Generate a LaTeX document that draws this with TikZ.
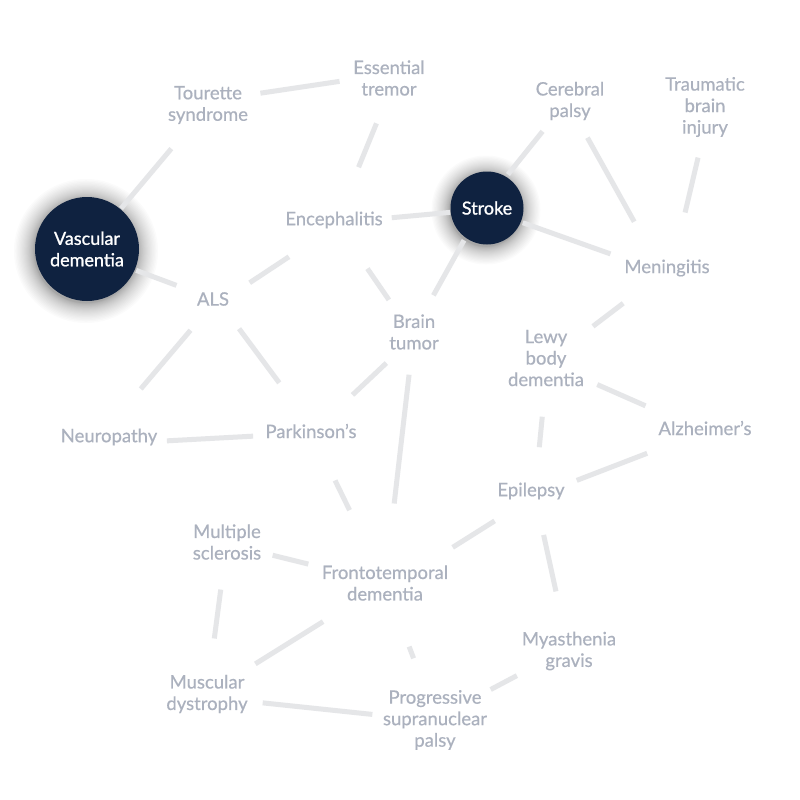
\documentclass[tikz,border=0pt]{standalone}
\usepackage{fontspec}
\setmainfont{Lato}[FakeBold=0.5]
\newfontfamily\hubfont{Lato}[FakeBold=1.0]
\usetikzlibrary{backgrounds}
\definecolor{navy}{HTML}{0F2240}
\definecolor{txtgray}{HTML}{ABB1BE}
\definecolor{linkgray}{HTML}{E5E6E8}
\tikzset{
  lbl/.style={text=txtgray,align=center,inner sep=0pt,font=\fontsize{18.5}{21.5}\selectfont},
  hub/.style={circle,fill=navy,text=white,align=center,inner sep=0pt,font=\hubfont\fontsize{18}{21.5}\selectfont},
  link/.style={draw=linkgray,line width=5pt,line cap=butt},
}
\newcommand\lnk[6]{\draw[link,shorten <=#3pt,shorten >=#4pt] ([shift={#5}]#1.center) -- ([shift={#6}]#2.center);}
\begin{document}
\begin{tikzpicture}[x=1pt,y=-1pt]
\useasboundingbox (0,0) rectangle (800,800);
% hubs
\node[hub,minimum size=104pt] (V) at (87,249) {Vascular\\dementia};
\node[hub,minimum size=73pt] (S) at (487,208) {Stroke};
\begin{scope}[on background layer]
\fill[white] (0,0) rectangle (800,800);
\foreach \i [evaluate=\i as \r using 52+20*(\i/24)^1.8] in {1,...,24}
  {\fill[black,opacity=0.016] ([shift={(-1,2)}]V.center) circle[radius=\r pt];}
\foreach \i [evaluate=\i as \r using 36.5+18*(\i/24)^1.8] in {1,...,24}
  {\fill[black,opacity=0.016] ([shift={(-1,2)}]S.center) circle[radius=\r pt];}
\end{scope}
% labels
\node[lbl] (T)   at (208,105) {Tourette\\syndrome};
\node[lbl] (E)   at (389,78)  {Essential\\tremor};
\node[lbl] (C)   at (570,101) {Cerebral\\palsy};
\node[lbl] (TB)  at (705,107) {Traumatic\\brain\\injury};
\node[lbl] (En)  at (334,220) {Encephalitis};
\node[lbl] (M)   at (667,268) {Meningitis};
\node[lbl] (A)   at (213,299) {ALS};
\node[lbl] (B)   at (414,332) {Brain\\tumor};
\node[lbl] (L)   at (546,358) {Lewy\\body\\dementia};
\node[lbl] (N)   at (109,437) {Neuropathy};
\node[lbl] (P)   at (311,431) {Parkinson’s};
\node[lbl] (Al)  at (705,428) {Alzheimer’s};
\node[lbl] (Ep)  at (531,491) {Epilepsy};
\node[lbl] (MS)  at (227,542) {Multiple\\sclerosis};
\node[lbl] (F)   at (385,583) {Frontotemporal\\dementia};
\node[lbl] (MG)  at (569,651) {Myasthenia\\gravis};
\node[lbl] (MD)  at (207,694) {Muscular\\dystrophy};
\node[lbl] (PSP) at (435,720) {Progressive\\supranuclear\\palsy};
% links
\lnk{T}{V}{57}{53}{(0,0)}{(0,0)}
\lnk{T}{E}{53}{50}{(0,-4)}{(0,-4)}
\lnk{E}{En}{49}{57}{(6,0)}{(3,0)}
\lnk{V}{A}{52.5}{39}{(0,3)}{(0,0)}
\lnk{A}{En}{44}{54}{(0,8)}{(0,7)}
\lnk{En}{S}{58}{37}{(0,3)}{(0,1)}
\lnk{S}{C}{43}{39}{(-6,0)}{(-3,0)}
\lnk{S}{M}{38}{60}{(0,2)}{(0,6)}
\lnk{S}{B}{37}{42}{(-5,0)}{(-1,0)}
\lnk{C}{M}{42}{53}{(-3,0)}{(-7,0)}
\lnk{TB}{M}{52}{57}{(5,0)}{(5,0)}
\lnk{En}{B}{59}{39}{(0,0)}{(-3,0)}
\lnk{M}{L}{55}{59}{(0,2)}{(0,4)}
\lnk{A}{N}{41}{63}{(4,0)}{(-9,0)}
\lnk{A}{P}{37}{60}{(4,0)}{(4,0)}
\lnk{B}{P}{38}{57}{(0,5)}{(0,3)}
\lnk{B}{F}{43}{80}{(0,0)}{(0,0)}
\lnk{L}{Al}{56}{65}{(0,4)}{(0,4)}
\lnk{L}{Ep}{59}{44}{(2,0)}{(4,0)}
\lnk{N}{P}{58}{58}{(0,7)}{(0,2)}
\lnk{Al}{Ep}{62}{49}{(0,3)}{(0,7)}
\lnk{P}{F}{55}{81}{(0,0)}{(0,0)}
\lnk{Ep}{F}{43}{80}{(0,7)}{(0,7)}
\lnk{Ep}{MG}{45}{61}{(3,0)}{(0,0)}
\lnk{MS}{F}{47}{79}{(0,2)}{(0,0)}
\lnk{MS}{MD}{48}{56}{(0,0)}{(0,0)}
\lnk{F}{MD}{73}{57}{(0,0)}{(0,0)}
\lnk{F}{PSP}{68}{66}{(0,0)}{(2,0)}
\lnk{MD}{PSP}{56}{63}{(0,3)}{(0,1)}
\lnk{MG}{PSP}{59}{63}{(0,-3)}{(0,-1)}
\end{tikzpicture}
\end{document}
